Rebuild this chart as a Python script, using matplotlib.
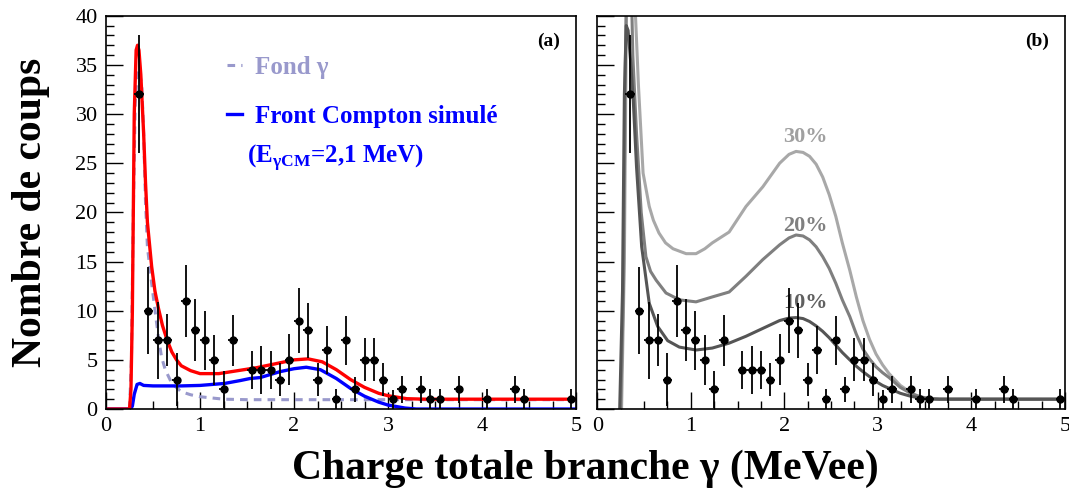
import matplotlib
matplotlib.use('Agg')
import matplotlib.pyplot as plt
from matplotlib.ticker import MultipleLocator

plt.rcParams['font.family'] = ['Liberation Serif', 'DejaVu Serif']
plt.rcParams['mathtext.fontset'] = 'custom'
plt.rcParams['mathtext.rm'] = 'Liberation Serif'
plt.rcParams['mathtext.bf'] = 'Liberation Serif:bold'

# measured spectrum (bin centres, counts, vertical errors)
x_data = [0.35, 0.45, 0.55, 0.65, 0.75, 0.85, 0.95, 1.05, 1.15, 1.25, 1.35,
          1.55, 1.65, 1.75, 1.85, 1.95, 2.05, 2.15, 2.25, 2.35, 2.45, 2.55,
          2.65, 2.75, 2.85, 2.95, 3.05, 3.15, 3.35, 3.45, 3.55, 3.75, 4.05,
          4.35, 4.45, 4.95]
counts = [32, 10, 7, 7, 3, 11, 8, 7, 5, 2, 7,
          4, 4, 4, 3, 5, 9, 8, 3, 6, 1, 7,
          2, 5, 5, 3, 1, 2, 2, 1, 1, 2, 1,
          2, 1, 1]
errs = [6.0, 4.4, 3.9, 2.65, 2.7, 3.65, 3.15, 3.0, 2.55, 1.9, 2.6,
        1.95, 2.45, 1.95, 1.7, 2.6, 3.3, 2.8, 1.7, 2.45, 1.0, 2.5,
        1.3, 2.2, 2.2, 1.7, 0.95, 1.4, 1.4, 1.0, 1.0, 1.4, 1.0,
        1.4, 1.0, 1.0]

# panel (a) curves
red_x = [0, 0.25, 0.265, 0.28, 0.30, 0.32, 0.335, 0.35, 0.37, 0.40, 0.42, 0.44,
         0.485, 0.52, 0.556, 0.60, 0.65, 0.70, 0.75, 0.80, 0.90, 1.0, 1.2, 1.4,
         1.6, 1.8, 2.0, 2.15, 2.3, 2.45, 2.6, 2.75, 2.9, 3.0, 3.2, 3.4, 5.0]
red_y = [0, 0, 2, 10, 30, 36.5, 37, 36.5, 34, 28, 23, 19,
         14.5, 12, 10.3, 8.5, 7.0, 5.8, 5.0, 4.4, 3.9, 3.6, 3.6, 3.9,
         4.2, 4.6, 5.0, 5.1, 4.8, 4.0, 3.0, 2.2, 1.6, 1.35, 1.05, 1.0, 1.0]

blue_x = [0, 0.26, 0.28, 0.30, 0.33, 0.36, 0.40, 0.5, 0.8, 1.0, 1.26, 1.43,
          1.53, 1.64, 1.85, 2.0, 2.13, 2.28, 2.45, 2.6, 2.75, 2.9, 3.0, 3.18,
          3.3, 5.0]
blue_y = [0, 0, 0.3, 1.5, 2.5, 2.6, 2.4, 2.35, 2.35, 2.4, 2.6, 2.9,
          3.1, 3.2, 3.8, 4.1, 4.25, 4.0, 3.1, 2.1, 1.3, 0.7, 0.4, 0.1,
          0, 0]

fond_x = [0.25, 0.27, 0.29, 0.31, 0.33, 0.35, 0.38, 0.40, 0.42, 0.44, 0.485,
          0.52, 0.556, 0.59, 0.63, 0.70, 0.80, 0.90, 1.0, 1.25, 1.5, 2.0, 5.0]
fond_y = [0, 5, 20, 31, 34, 34.5, 33, 28, 21, 16.5, 12.8,
          10.1, 7.4, 5.3, 4.0, 2.6, 1.76, 1.45, 1.25, 1.0, 0.95, 0.95, 0.95]

# panel (b) curves, 10 / 20 / 30 %
c10_x = [0.24, 0.27, 0.29, 0.31, 0.33, 0.36, 0.385, 0.42, 0.475, 0.556, 0.646,
         0.753, 0.877, 1.056, 1.23, 1.41, 1.59, 1.77, 1.95, 2.05, 2.125, 2.2,
         2.27, 2.34, 2.41, 2.48, 2.55, 2.62, 2.70, 2.77, 2.84, 2.91, 2.98,
         3.05, 3.12, 3.24, 3.35, 3.45, 3.55, 3.66, 5.0]
c10_y = [0, 12, 32, 39, 38.5, 35, 31.4, 24.6, 16.5, 10.75, 8.4,
         6.95, 6.3, 6.0, 6.2, 6.7, 7.4, 8.2, 9.0, 9.25, 9.3, 9.2,
         8.9, 8.45, 7.9, 7.25, 6.5, 5.75, 5.0, 4.35, 3.8, 3.3, 2.8,
         2.4, 2.1, 1.6, 1.3, 1.12, 1.03, 1.0, 1.0]

c20_x = [0.25, 0.28, 0.30, 0.32, 0.34, 0.36, 0.38, 0.42, 0.47, 0.52, 0.57,
         0.63, 0.735, 0.88, 1.056, 1.23, 1.41, 1.59, 1.77, 1.95, 2.05, 2.125,
         2.2, 2.27, 2.34, 2.41, 2.48, 2.55, 2.62, 2.70, 2.77, 2.84, 2.91,
         2.98, 3.05, 3.12, 3.24, 3.35, 3.45, 3.55, 3.66, 5.0]
c20_y = [0, 12, 35, 48, 50, 45, 36, 28, 20, 15.5, 14.0,
         13.1, 11.8, 11.1, 10.9, 11.4, 11.9, 13.5, 15.2, 16.7, 17.4, 17.7,
         17.6, 17.2, 16.5, 15.5, 14.3, 12.8, 11.1, 9.4, 7.6, 6.1, 5.1,
         4.3, 3.7, 3.2, 2.2, 1.6, 1.25, 1.07, 1.0, 1.0]

c30_x = [0.26, 0.29, 0.31, 0.33, 0.35, 0.37, 0.40, 0.44, 0.49, 0.556, 0.60,
         0.66, 0.73, 0.81, 0.95, 1.056, 1.15, 1.23, 1.41, 1.59, 1.77, 1.95,
         2.05, 2.125, 2.2, 2.27, 2.34, 2.41, 2.48, 2.55, 2.62, 2.70, 2.77,
         2.84, 2.91, 2.98, 3.05, 3.12, 3.24, 3.38, 3.48, 3.58, 5.0]
c30_y = [0, 15, 38, 55, 58, 52, 42, 33, 24, 20.6, 19.2,
         17.9, 16.9, 16.3, 15.8, 15.8, 16.3, 16.9, 18.0, 20.6, 22.6, 25.0,
         25.9, 26.2, 26.1, 25.7, 24.9, 23.6, 21.8, 19.6, 16.9, 14.1, 11.4,
         9.0, 7.1, 5.6, 4.5, 3.6, 2.4, 1.5, 1.15, 1.02, 1.0]

pct_labels = ['10%', '20%', '30%']
pct_pos = [(2.23, 10.8), (2.23, 18.6), (2.23, 27.7)]

lavender = '#9999cc'
grey10, grey20, grey30 = '#555555', '#7f7f7f', '#a8a8a8'

fig = plt.figure(figsize=(10.69, 4.95), dpi=100)
ax_a = fig.add_axes([0.0992, 0.1737, 0.4397, 0.7945])
ax_b = fig.add_axes([0.5587, 0.1737, 0.4375, 0.7945])

for ax in (ax_a, ax_b):
    ax.set_xlim(0, 5)
    ax.set_ylim(0, 40)
    ax.xaxis.set_major_locator(MultipleLocator(1))
    ax.xaxis.set_minor_locator(MultipleLocator(0.25))
    ax.yaxis.set_major_locator(MultipleLocator(5))
    ax.yaxis.set_minor_locator(MultipleLocator(1))
    ax.tick_params(which='both', direction='in', top=False, right=False,
                   labelsize=16, width=1)
    ax.tick_params(which='major', length=12, pad=6)
    ax.tick_params(which='minor', length=6)
    for s in ax.spines.values():
        s.set_linewidth(1.2)
    ax.errorbar(x_data, counts, yerr=errs, xerr=0.05, fmt='o', color='black',
                ms=5, elinewidth=1.3, capsize=0, zorder=5)

ax_b.tick_params(labelleft=False)

# panel (a)
l_fond, = ax_a.plot(fond_x, fond_y, color=lavender, lw=2.2, ls=(0, (2.5, 2)),
                    label='Fond γ')
l_comp, = ax_a.plot(blue_x, blue_y, color='blue', lw=2.4,
                    label='Front Compton simulé')
ax_a.plot(red_x, red_y, color='red', lw=2.4)
leg = ax_a.legend(handles=[l_fond, l_comp], loc='upper left',
                  bbox_to_anchor=(0.21, 0.955), frameon=False,
                  prop={'size': 18, 'weight': 'bold'}, labelcolor='linecolor',
                  handlelength=0.6, handletextpad=0.5, labelspacing=1.05)
ax_a.text(0.30, 0.64, r'(E$_{\mathbf{γCM}}$=2,1 MeV)', transform=ax_a.transAxes,
          color='blue', fontsize=18, fontweight='bold', va='center', ha='left')
ax_a.text(0.965, 0.935, '(a)', transform=ax_a.transAxes, fontsize=14,
          fontweight='bold', ha='right', va='center')

# panel (b)
ax_b.plot(c30_x, c30_y, color=grey30, lw=2.2)
ax_b.plot(c20_x, c20_y, color=grey20, lw=2.2)
ax_b.plot(c10_x, c10_y, color=grey10, lw=2.2)
for lab, (px, py), col in zip(pct_labels, pct_pos, ['#606060', '#808080', '#a0a0a0']):
    ax_b.text(px, py, lab, color=col, fontsize=16, fontweight='bold',
              ha='center', va='center')
ax_b.text(0.965, 0.935, '(b)', transform=ax_b.transAxes, fontsize=14,
          fontweight='bold', ha='right', va='center')

fig.text(0.548, 0.052, 'Charge totale branche γ (MeVee)', fontsize=30,
         fontweight='bold', ha='center', va='center')
fig.text(0.029, 0.57, 'Nombre de coups', fontsize=30, fontweight='bold',
         rotation=90, ha='center', va='center')

fig.savefig('out.png', dpi=100)
